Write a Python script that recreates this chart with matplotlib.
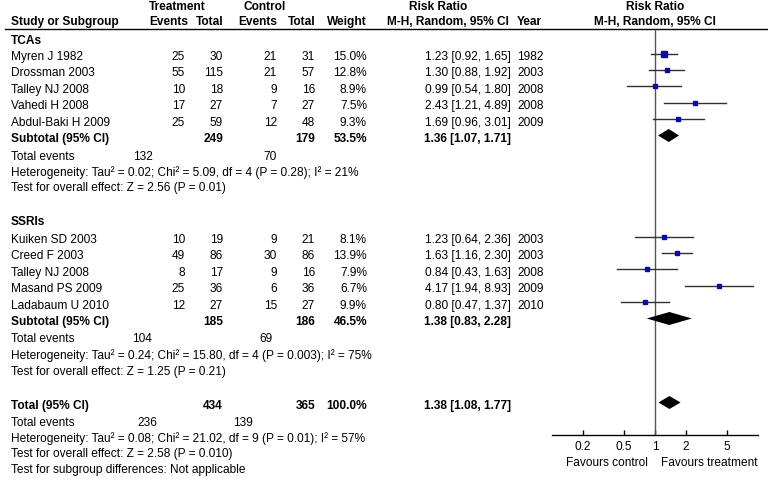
import numpy as np
import matplotlib
matplotlib.use('Agg')
import matplotlib.pyplot as plt
from matplotlib.ticker import NullLocator

plt.rcParams['font.family'] = ['Liberation Sans', 'DejaVu Sans']
FS = 8.6

# ---- data ----
tca_names = ['Myren J 1982', 'Drossman 2003', 'Talley NJ 2008', 'Vahedi H 2008', 'Abdul-Baki H 2009']
tca_t_events = [25, 55, 10, 17, 25]
tca_t_total = [30, 115, 18, 27, 59]
tca_c_events = [21, 21, 9, 7, 12]
tca_c_total = [31, 57, 16, 27, 48]
tca_weight = [15.0, 12.8, 8.9, 7.5, 9.3]
tca_rr = [1.23, 1.30, 0.99, 2.43, 1.69]
tca_lo = [0.92, 0.88, 0.54, 1.21, 0.96]
tca_hi = [1.65, 1.92, 1.80, 4.89, 3.01]
tca_year = [1982, 2003, 2008, 2008, 2009]
tca_sub_totals = [249, 179]
tca_sub_weight = 53.5
tca_sub_rr = [1.36, 1.07, 1.71]
tca_events = [132, 70]
tca_het = 'Heterogeneity: Tau² = 0.02; Chi² = 5.09, df = 4 (P = 0.28); I² = 21%'
tca_z = 'Test for overall effect: Z = 2.56 (P = 0.01)'

ssri_names = ['Kuiken SD 2003', 'Creed F 2003', 'Talley NJ 2008', 'Masand PS 2009', 'Ladabaum U 2010']
ssri_t_events = [10, 49, 8, 25, 12]
ssri_t_total = [19, 86, 17, 36, 27]
ssri_c_events = [9, 30, 9, 6, 15]
ssri_c_total = [21, 86, 16, 36, 27]
ssri_weight = [8.1, 13.9, 7.9, 6.7, 9.9]
ssri_rr = [1.23, 1.63, 0.84, 4.17, 0.80]
ssri_lo = [0.64, 1.16, 0.43, 1.94, 0.47]
ssri_hi = [2.36, 2.30, 1.63, 8.93, 1.37]
ssri_year = [2003, 2003, 2008, 2009, 2010]
ssri_sub_totals = [185, 186]
ssri_sub_weight = 46.5
ssri_sub_rr = [1.38, 0.83, 2.28]
ssri_events = [104, 69]
ssri_het = 'Heterogeneity: Tau² = 0.24; Chi² = 15.80, df = 4 (P = 0.003); I² = 75%'
ssri_z = 'Test for overall effect: Z = 1.25 (P = 0.21)'

all_totals = [434, 365]
all_weight = 100.0
all_rr = [1.38, 1.08, 1.77]
all_events = [236, 139]
all_het = 'Heterogeneity: Tau² = 0.08; Chi² = 21.02, df = 9 (P = 0.01); I² = 57%'
all_z = 'Test for overall effect: Z = 2.58 (P = 0.010)'
all_sub = 'Test for subgroup differences: Not applicable'

ticks = [0.2, 0.5, 1, 2, 5]
tick_labels = ['0.2', '0.5', '1', '2', '5']

# ---- layout (pixels) ----
W, H = 768, 479
X_NAME = 11
X_TE, X_TT, X_CE, X_CT, X_W = 185, 223, 277, 315, 367
X_CI, X_YR = 511, 517
ROW = 16.4
MARK_DY = -3.5
AXIS_Y = 435

fig = plt.figure(figsize=(W / 100, H / 100), dpi=100)
tx = fig.add_axes([0, 0, 1, 1])
tx.set_xlim(0, W)
tx.set_ylim(H, 0)
tx.axis('off')

fx = fig.add_axes([552 / W, 0, 206 / W, 1])
fx.set_xscale('log')
fx.set_xlim(0.1, 10)
fx.set_ylim(H, 0)
fx.patch.set_visible(False)
for s in ('top', 'left', 'right'):
    fx.spines[s].set_visible(False)
fx.spines['bottom'].set_position(('data', AXIS_Y))
fx.spines['bottom'].set_linewidth(1)
fx.set_yticks([])
fx.set_xticks(ticks)
fx.set_xticklabels(tick_labels)
fx.xaxis.set_minor_locator(NullLocator())
fx.tick_params(axis='x', direction='in', length=3.5, width=1, pad=4.5, labelsize=FS)


def t(x, y, s, ha='left', bold=False):
    tx.text(x, y, s, ha=ha, va='center', fontsize=FS,
            fontweight='bold' if bold else 'normal')


def ci_str(v):
    return f'{v[0]:.2f} [{v[1]:.2f}, {v[2]:.2f}]'


def diamond(y, v, h=6.5):
    est, lo, hi = v
    fx.fill([lo, est, hi, est], [y, y - h, y, y + h], color='black', lw=0, zorder=4)


# headers
t(177, 7, 'Treatment', ha='center', bold=True)
t(265, 7, 'Control', ha='center', bold=True)
t(438, 7, 'Risk Ratio', ha='center', bold=True)
t(655, 7, 'Risk Ratio', ha='center', bold=True)
t(X_NAME, 22, 'Study or Subgroup', bold=True)
t(188, 22, 'Events', ha='right', bold=True)
t(X_TT, 22, 'Total', ha='right', bold=True)
t(X_CE, 22, 'Events', ha='right', bold=True)
t(X_CT, 22, 'Total', ha='right', bold=True)
t(X_W, 22, 'Weight', ha='right', bold=True)
t(509, 22, 'M-H, Random, 95% CI', ha='right', bold=True)
t(X_YR, 22, 'Year', bold=True)
t(655, 22, 'M-H, Random, 95% CI', ha='center', bold=True)
tx.plot([5, W], [28.5, 28.5], color='black', lw=1)


def group(y_head, y0, title, names, te, tt, ce, ct, w, rr, lo, hi, yr,
          sub_totals, sub_w, sub_rr, events, ev_x, het, z):
    t(X_NAME, y_head, title, bold=True)
    for i in range(len(names)):
        y = y0 + i * ROW
        t(X_NAME, y, names[i])
        t(X_TE, y, str(te[i]), ha='right')
        t(X_TT, y, str(tt[i]), ha='right')
        t(X_CE, y, str(ce[i]), ha='right')
        t(X_CT, y, str(ct[i]), ha='right')
        t(X_W, y, f'{w[i]:.1f}%', ha='right')
        t(X_CI, y, ci_str([rr[i], lo[i], hi[i]]), ha='right')
        t(X_YR, y, str(yr[i]))
        ym = y + MARK_DY
        fx.plot([lo[i], hi[i]], [ym, ym], color='#303030', lw=1, zorder=3)
        fx.plot(rr[i], ym, marker='s', ms=0.93 * np.sqrt(w[i]), color='#0a0aa8',
                mec='#0a0aa8', zorder=5)
    ys = y0 + len(names) * ROW
    t(X_NAME, ys, 'Subtotal (95% CI)', bold=True)
    t(X_TT, ys, str(sub_totals[0]), ha='right', bold=True)
    t(X_CT, ys, str(sub_totals[1]), ha='right', bold=True)
    t(X_W, ys, f'{sub_w:.1f}%', ha='right', bold=True)
    t(X_CI, ys, ci_str(sub_rr), ha='right', bold=True)
    diamond(ys + MARK_DY, sub_rr)
    ye = ys + 17.5
    t(X_NAME, ye, 'Total events')
    t(ev_x[0], ye, str(events[0]), ha='right')
    t(ev_x[1], ye, str(events[1]), ha='right')
    t(X_NAME, ye + 16, het)
    t(X_NAME, ye + 32, z)


group(41, 57, 'TCAs', tca_names, tca_t_events, tca_t_total, tca_c_events, tca_c_total,
      tca_weight, tca_rr, tca_lo, tca_hi, tca_year, tca_sub_totals, tca_sub_weight,
      tca_sub_rr, tca_events, (153, 277), tca_het, tca_z)
group(222, 240, 'SSRIs', ssri_names, ssri_t_events, ssri_t_total, ssri_c_events, ssri_c_total,
      ssri_weight, ssri_rr, ssri_lo, ssri_hi, ssri_year, ssri_sub_totals, ssri_sub_weight,
      ssri_sub_rr, ssri_events, (152, 273), ssri_het, ssri_z)

# overall
yt = 406
t(X_NAME, yt, 'Total (95% CI)', bold=True)
t(X_TT, yt, str(all_totals[0]), ha='right', bold=True)
t(X_CT, yt, str(all_totals[1]), ha='right', bold=True)
t(X_W, yt, f'{all_weight:.1f}%', ha='right', bold=True)
t(X_CI, yt, ci_str(all_rr), ha='right', bold=True)
diamond(yt + MARK_DY, all_rr)
t(X_NAME, yt + 16.5, 'Total events')
t(157, yt + 16.5, str(all_events[0]), ha='right')
t(253, yt + 16.5, str(all_events[1]), ha='right')
t(X_NAME, yt + 32.5, all_het)
t(X_NAME, yt + 48.5, all_z)
t(X_NAME, yt + 64.5, all_sub)

# null line
fx.vlines(1, 29, AXIS_Y, color='#555555', lw=1, zorder=2)
t(648, 463, 'Favours control', ha='right')
t(661, 463, 'Favours treatment')

fig.savefig('out.png', dpi=100)
